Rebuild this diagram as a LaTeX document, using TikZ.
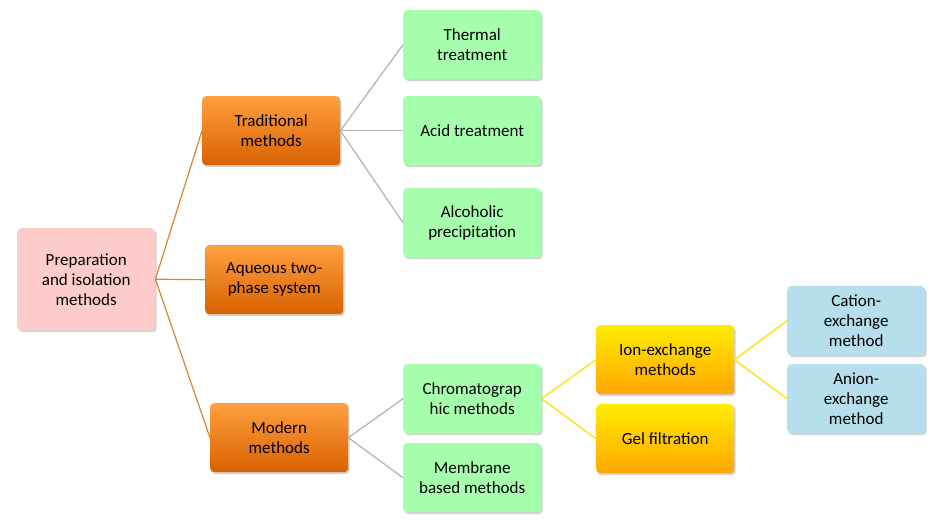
\documentclass[tikz,border=0pt]{standalone}
\usepackage{fontspec}
\setmainfont{Carlito}
\usetikzlibrary{shadows}
\begin{document}
\begin{tikzpicture}[x=1pt,y=-1pt,
  box/.style={draw=none,rounded corners=4pt,minimum width=138pt,minimum height=69pt,align=center,
    font=\fontsize{17}{20}\selectfont,drop shadow={shadow xshift=1.5pt,shadow yshift=-2pt,opacity=0.35},anchor=north west,inner sep=2pt},
  root/.style={box,fill=red!20,minimum height=102pt},
  org/.style={box,top color=orange!75!white,bottom color=orange!90!red!85!black},
  grn/.style={box,fill=green!30!cyan!10!green!35!white},
  gld/.style={box,top color=yellow!85!orange,bottom color=orange!70!yellow},
  blu/.style={box,fill=blue!25!cyan!25!white!85!gray},
  lo/.style={draw=orange!80!black!80,line width=1.2pt},
  lg/.style={draw=gray!60,line width=1.2pt},
  ly/.style={draw=yellow!80!orange,line width=1.2pt}]
\fill[white] (0,0) rectangle (947,531);
\node[root] (r) at (17,228) {Preparation\\and isolation\\methods};
\node[org] (t) at (202,96) {Traditional\\methods};
\node[org] (a) at (205,245) {Aqueous two-\\phase system};
\node[org] (m) at (210,403) {Modern\\methods};
\node[grn] (th) at (403,10) {Thermal\\treatment};
\node[grn] (ac) at (403,96) {Acid treatment};
\node[grn] (al) at (403,188) {Alcoholic\\precipitation};
\node[grn] (ch) at (403,364) {Chromatograp\\hic methods};
\node[grn] (me) at (403,443) {Membrane\\based methods};
\node[gld] (io) at (596,325) {Ion-exchange\\methods};
\node[gld] (ge) at (596,404) {Gel filtration};
\node[blu] (ca) at (787,286) {Cation-\\exchange\\method};
\node[blu] (an) at (787,364) {Anion-\\exchange\\method};
\foreach \c in {t,a,m} \draw[lo] (r.east) -- (\c.west);
\foreach \c in {th,ac,al} \draw[lg] (t.east) -- (\c.west);
\foreach \c in {ch,me} \draw[lg] (m.east) -- (\c.west);
\foreach \c in {io,ge} \draw[ly] (ch.east) -- (\c.west);
\foreach \c in {ca,an} \draw[ly] (io.east) -- (\c.west);
\end{tikzpicture}
\end{document}
